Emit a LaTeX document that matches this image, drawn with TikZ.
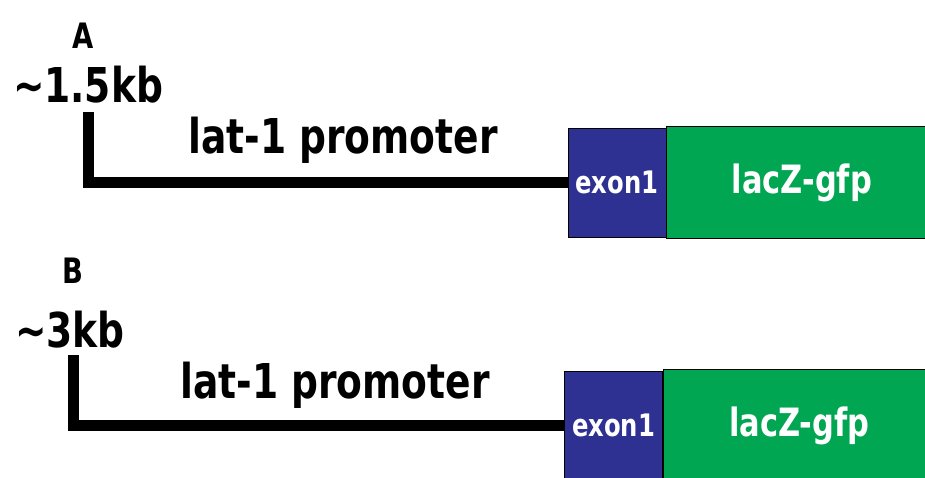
\documentclass[tikz,border=0pt]{standalone}
\usepackage{fontspec}
\usetikzlibrary{positioning}
\newfontfamily\labelfont{DejaVu Sans Condensed}[FakeStretch=0.87]
\newcommand{\lblsize}[1]{\labelfont\bfseries\fontsize{#1}{#1}\selectfont}
\definecolor{exonblue}{RGB}{46,49,146}
\definecolor{lacgreen}{RGB}{0,166,81}
\tikzset{
  exonbox/.style={draw=black,line width=0.8pt,fill=exonblue,text=white,inner sep=0pt,
    minimum width=98pt,minimum height=109pt,font=\lblsize{31}},
  genebox/.style={draw=black,line width=0.8pt,fill=lacgreen,text=white,inner sep=0pt,
    minimum width=270pt,minimum height=112pt,font=\lblsize{39}},
  bracket/.style={line width=11pt},
  lbl/.style={inner sep=0pt,font=\lblsize{48}}
}

\begin{document}
\begin{tikzpicture}[x=1pt,y=-1pt]
    \useasboundingbox (0,0) rectangle (925,477);
    % construct A
    \node[lbl,font=\lblsize{35}] (nameA) at (83,36) {A};
    \node[lbl] (kbA) at (88,85) {\textasciitilde1.5kb};
    \node[lbl] (promA) at (343,140) {lat-1 promoter};
    \node[exonbox] (exonA) at (617,182.5) {exon1};
    % green box runs past the right margin
    \node[genebox,right=0pt of exonA] (lacA) {lacZ-gfp};
    \coordinate (topA) at (88,112);
    \draw[bracket] (topA) |- (exonA.west);
    % construct B
    \node[lbl,font=\lblsize{35}] (nameB) at (73,271) {B};
    \node[lbl] (kbB) at (70,330) {\textasciitilde3kb};
    \node[lbl] (promB) at (335,385) {lat-1 promoter};
    \node[exonbox] (exonB) at (613.5,425.5) {exon1};
    \node[genebox,minimum width=272pt,right=0pt of exonB] (lacB) {lacZ-gfp};
    \coordinate (topB) at (73,355);
    \draw[bracket] (topB) |- (exonB.west);
\end{tikzpicture}
\end{document}
